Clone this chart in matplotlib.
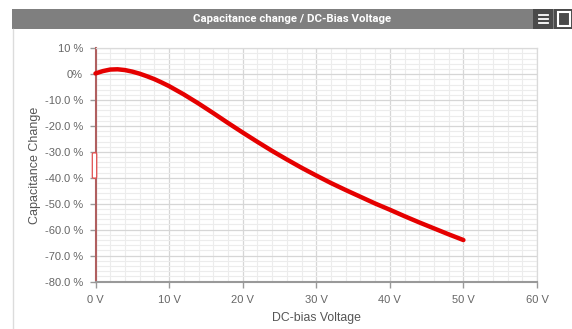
import matplotlib.pyplot as plt
from matplotlib.patches import Rectangle, FancyBboxPatch
from matplotlib.ticker import MultipleLocator, FixedLocator, FixedFormatter

# DC-bias curve (V -> % capacitance change)
volts = [0, 1, 2, 3, 4, 5, 6, 7, 8, 9, 10, 12, 14, 16, 18, 20, 22, 24, 26, 28,
         30, 32, 34, 36, 38, 40, 42, 44, 46, 48, 50]
change = [0.3, 1.2, 1.8, 1.9, 1.6, 1.0, 0.2, -0.8, -1.9, -3.2, -4.6, -7.8, -11.3,
          -15.0, -18.8, -22.5, -26.1, -29.6, -32.9, -36.1, -39.1, -42.0, -44.7,
          -47.3, -49.9, -52.3, -54.8, -57.2, -59.5, -61.8, -64.0]

x_ticks = [0, 10, 20, 30, 40, 50, 60]
x_labels = ['0 V', '10 V', '20 V', '30 V', '40 V', '50 V', '60 V']
y_ticks = [10, 0, -10, -20, -30, -40, -50, -60, -70, -80]
y_labels = ['10 %', '0%', '-10.0 %', '-20.0 %', '-30.0 %', '-40.0 %',
            '-50.0 %', '-60.0 %', '-70.0 %', '-80.0 %']

plt.rcParams['font.family'] = ['Liberation Sans', 'DejaVu Sans']

W, H = 572, 329
fig = plt.figure(figsize=(W / 100, H / 100), dpi=100)
fig.patch.set_facecolor('white')

def px(x0, y0, w, h):
    # pixel box (top-left origin) -> figure fraction
    return (x0 / W, 1 - (y0 + h) / H, w / W, h / H)

# header bar
hx, hy, hw, hh = px(12, 9, 560, 19.5)
fig.patches.append(Rectangle((hx, hy), hw, hh, transform=fig.transFigure,
                             facecolor='#7f7f7f', edgecolor='none', zorder=0))
fig.text(292 / W, 1 - 18.8 / H, 'Capacitance change / DC-Bias Voltage',
         color='white', fontsize=8.2, fontweight='bold', family=['Roboto', 'DejaVu Sans'],
         ha='center', va='center')

# menu button
bx, by, bw, bh = px(533, 9, 20, 19.5)
fig.patches.append(Rectangle((bx, by), bw, bh, transform=fig.transFigure,
                             facecolor='#4a4a4a', edgecolor='none'))
for yy in (14.5, 18.5, 22.5):
    fig.lines.append(plt.Line2D([538.5 / W, 547.5 / W], [1 - yy / H] * 2,
                                transform=fig.transFigure, color='white', lw=1.3))
# maximise button
mx, my, mw, mh = px(554, 9, 18, 19.5)
fig.patches.append(Rectangle((mx, my), mw, mh, transform=fig.transFigure,
                             facecolor='#4a4a4a', edgecolor='none'))
sx, sy, sw, sh = px(558, 12, 11.5, 13.5)
fig.patches.append(Rectangle((sx, sy), sw, sh, transform=fig.transFigure,
                             facecolor='none', edgecolor='white', lw=1.5))

# panel left border
fig.lines.append(plt.Line2D([13 / W, 13 / W], [0, 1 - 28.5 / H],
                            transform=fig.transFigure, color='#dcdcdc', lw=1))

ax = fig.add_axes([95.5 / W, 1 - 281.5 / H, (537 - 95.5) / W, (281.5 - 48.3) / H])
ax.plot(volts, change, color='#e50000', lw=3.2, solid_capstyle='round',
        solid_joinstyle='round', zorder=5, clip_on=False)

ax.set_xlim(0, 60)
ax.set_ylim(-80, 10)
ax.xaxis.set_major_locator(FixedLocator(x_ticks))
ax.xaxis.set_major_formatter(FixedFormatter(x_labels))
ax.yaxis.set_major_locator(FixedLocator(y_ticks))
ax.yaxis.set_major_formatter(FixedFormatter(y_labels))
ax.xaxis.set_minor_locator(MultipleLocator(2))
ax.yaxis.set_minor_locator(MultipleLocator(2))

ax.grid(which='major', color='#d6d6d6', lw=0.9)
ax.grid(which='minor', color='#ececec', lw=0.8)
ax.set_axisbelow(True)

for s in ('top', 'right'):
    ax.spines[s].set_color('#dadada')
    ax.spines[s].set_linewidth(0.9)
ax.spines['left'].set_color('#b06060')
ax.spines['left'].set_linewidth(1.5)
ax.spines['bottom'].set_color('#999999')
ax.spines['bottom'].set_linewidth(1.5)

ax.tick_params(axis='x', which='major', length=4, color='#999999', width=1,
               labelsize=8, labelcolor='#666666', pad=6)
ax.tick_params(axis='y', which='major', length=4, color='#999999', width=1,
               labelsize=8, labelcolor='#666666', pad=5)
ax.tick_params(which='minor', length=0)

ax.set_xlabel('DC-bias Voltage', fontsize=8.8, color='#555555', labelpad=5)
ax.set_ylabel('Capacitance Change', fontsize=9, color='#555555', labelpad=3)

# navigator handle on the y axis
rx, ry, rw, rh = px(92.3, 152.7, 4.4, 25.6)
fig.patches.append(FancyBboxPatch((rx, ry), rw, rh, transform=fig.transFigure,
                                  boxstyle='round,pad=0,rounding_size=0.004',
                                  facecolor='white', edgecolor='#e05050', lw=0.9,
                                  zorder=10))

fig.savefig('out.png', dpi=100)
